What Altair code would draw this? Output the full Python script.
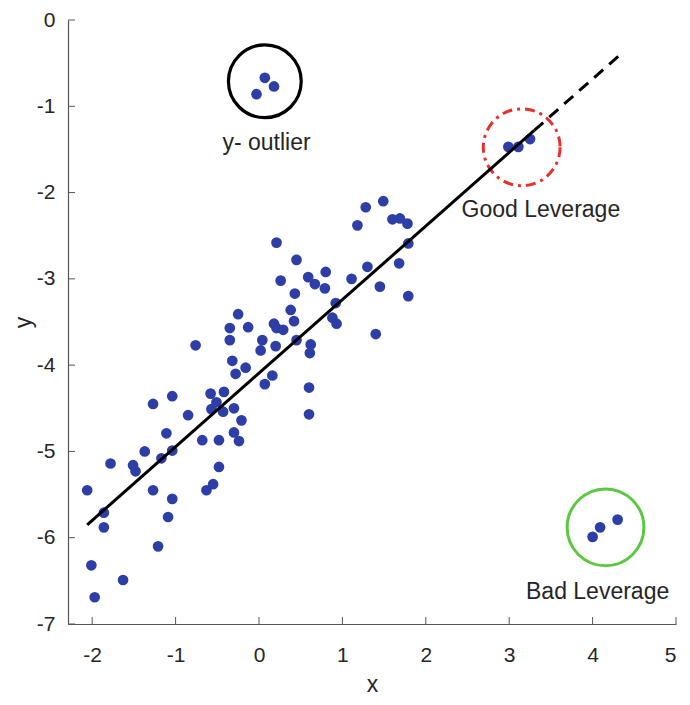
import altair as alt
import pandas as pd

# ---- data ----
cloud_x = [0.21, 0.45, 0.26, 0.59, 0.67, 0.79, 0.80, 0.43, 0.38, 0.42,
           -0.25, -0.35, -0.13, 0.18, 0.21, 0.29, -0.35, -0.76, 0.04, 0.02,
           0.20, 0.45, 0.62, 0.61, -0.32, -0.16, -0.28, 0.16, 0.07, 0.60,
           0.60, -0.58, -0.42, -1.04, -1.27, -0.57, -0.43, -0.30, -0.21, -0.51,
           -0.85, -1.11, -0.68, -0.48, -0.30, -0.24, -1.37, -1.04, -1.17, -1.78,
           -1.51, -1.48, -0.48, -2.06, -1.27, -1.04, -0.63, -0.55, -1.86, -1.86,
           -1.09, -1.21, -2.01, -1.63, -1.97, 1.28, 1.49, 1.18, 1.60, 1.69,
           1.78, 1.79, 1.68, 1.11, 1.30, 1.45, 1.79, 0.92, 0.88, 0.93, 1.40]
cloud_y = [-2.58, -2.78, -3.02, -2.98, -3.06, -3.11, -2.92, -3.17, -3.36, -3.49,
           -3.41, -3.57, -3.56, -3.52, -3.57, -3.59, -3.71, -3.77, -3.71, -3.83,
           -3.78, -3.71, -3.76, -3.86, -3.95, -4.03, -4.10, -4.12, -4.22, -4.26,
           -4.57, -4.33, -4.31, -4.36, -4.45, -4.51, -4.54, -4.50, -4.64, -4.43,
           -4.58, -4.79, -4.87, -4.87, -4.78, -4.88, -5.00, -4.99, -5.08, -5.14,
           -5.16, -5.23, -5.18, -5.45, -5.45, -5.55, -5.45, -5.38, -5.71, -5.88,
           -5.76, -6.10, -6.32, -6.49, -6.69, -2.17, -2.10, -2.38, -2.31, -2.30,
           -2.36, -2.59, -2.82, -3.00, -2.86, -3.09, -3.20, -3.28, -3.45, -3.52, -3.64]

youtlier_x = [-0.03, 0.07, 0.18]
youtlier_y = [-0.86, -0.67, -0.77]
good_x = [2.99, 3.11, 3.25]
good_y = [-1.47, -1.47, -1.38]
bad_x = [4.00, 4.09, 4.30]
bad_y = [-5.99, -5.88, -5.79]

fit_solid_x = [-2.06, 3.30]
fit_solid_y = [-5.85, -1.28]
fit_dash_x = [3.30, 4.32]
fit_dash_y = [-1.28, -0.41]

ring_x = [0.07, 3.15, 4.155]
ring_y = [-0.71, -1.475, -5.88]

label_text = ["y- outlier", "Good Leverage", "Bad Leverage"]
label_x = [0.09, 3.38, 4.06]
label_y = [-1.51, -2.28, -6.71]

x_ticks = [-2, -1, 0, 1, 2, 3, 4, 5]
y_ticks = [-7, -6, -5, -4, -3, -2, -1, 0]

# ---- chart ----
W, H = 608, 604
FONT = "Liberation Sans"
TXT = "#262626"
xs = alt.Scale(domain=[-2.29, 5], nice=False, zero=False)
ys = alt.Scale(domain=[-7, 0], nice=False, zero=False)
ax_x = alt.Axis(values=x_ticks, title="x", labelExpr="'' + datum.value",
                labelPadding=20, titlePadding=8, tickSize=0, ticks=False)
ax_y = alt.Axis(values=y_ticks, title="y", labelExpr="'' + datum.value",
                labelPadding=13, titlePadding=1, tickSize=0, ticks=False)


def X(f):
    return alt.X(f, scale=xs, axis=ax_x)


def Y(f):
    return alt.Y(f, scale=ys, axis=ax_y)


pts = pd.DataFrame({
    "x": cloud_x + youtlier_x + good_x + bad_x,
    "y": cloud_y + youtlier_y + good_y + bad_y,
})

scatter = alt.Chart(pts).mark_circle(size=115, color="#2d3ea6", opacity=1).encode(
    x=X("x:Q"), y=Y("y:Q"))

xt = alt.Chart(pd.DataFrame({"x": x_ticks})).mark_rule(color="#555555", strokeWidth=1).encode(
    x=X("x:Q"), y=alt.value(H), y2=alt.value(H - 7))
yt = alt.Chart(pd.DataFrame({"y": y_ticks})).mark_rule(color="#555555", strokeWidth=1).encode(
    y=Y("y:Q"), x=alt.value(0), x2=alt.value(7))

line_solid = alt.Chart(pd.DataFrame({"x": fit_solid_x, "y": fit_solid_y})).mark_line(
    color="black", strokeWidth=3).encode(x=X("x:Q"), y=Y("y:Q"))
line_dash = alt.Chart(pd.DataFrame({"x": fit_dash_x, "y": fit_dash_y})).mark_line(
    color="black", strokeWidth=3, strokeDash=[12, 8]).encode(x=X("x:Q"), y=Y("y:Q"))

ring_styles = [
    dict(color="black", size=5300, strokeWidth=3.2),
    dict(color="#e8302a", size=5900, strokeWidth=3, strokeDash=[10, 5, 3, 5]),
    dict(color="#5cc840", size=5900, strokeWidth=3),
]
rings = []
for i, st in enumerate(ring_styles):
    rings.append(
        alt.Chart(pd.DataFrame({"x": [ring_x[i]], "y": [ring_y[i]]})).mark_point(
            shape="circle", filled=False, opacity=1, **st).encode(x=X("x:Q"), y=Y("y:Q"))
    )

labels = alt.Chart(pd.DataFrame({"x": label_x, "y": label_y, "t": label_text})).mark_text(
    font=FONT, fontSize=23, color=TXT, align="center", baseline="alphabetic").encode(
    x=X("x:Q"), y=Y("y:Q"), text="t:N")

chart = alt.layer(scatter, xt, yt, *rings, line_solid, line_dash, labels).properties(
    width=W, height=H,
    autosize=alt.AutoSizeParams(type="none"),
    padding={"left": 60, "top": 12, "right": 6, "bottom": 72},
    background="white",
).configure_view(stroke=None).configure_axis(
    grid=False, domainColor="#555555", domainWidth=1.2,
    labelFont=FONT, labelFontSize=21, labelColor=TXT,
    titleFont=FONT, titleFontSize=23, titleFontWeight="normal", titleColor=TXT,
)

chart.save("out.html", embed_options={"renderer": "svg", "actions": False})
